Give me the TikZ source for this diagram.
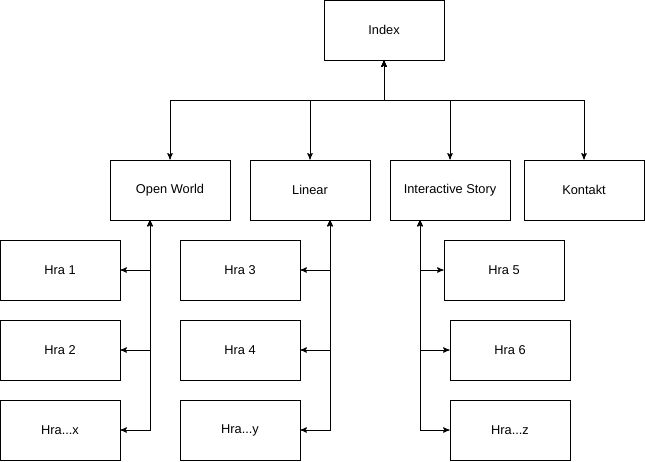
\documentclass[tikz,border=0pt]{standalone}
\usepackage{fontspec}
\setmainfont{Liberation Sans}
\usetikzlibrary{arrows}

\begin{document}
\begin{tikzpicture}
        [x=0.75pt,y=-0.75pt,>=stealth',line width=0.75pt,
         page/.style={draw,rectangle,minimum width=90pt,minimum height=45pt,inner sep=0pt,font=\fontsize{9.6}{11}\selectfont}]
        \useasboundingbox (0,0) rectangle (645,461);
        \node[page] (index) at (384,30) {Index};
        \node[page] (open) at (170,190) {Open World};
        \node[page] (linear) at (310,190) {Linear};
        \node[page] (story) at (450,190) {Interactive Story};
        \node[page] (kontakt) at (584,190) {Kontakt};

        \node[page] (h1) at (60,270) {Hra 1};
        \node[page] (h2) at (60,350) {Hra 2};
        \node[page] (hx) at (60,430) {Hra...x};
        \node[page] (h3) at (240,270) {Hra 3};
        \node[page] (h4) at (240,350) {Hra 4};
        \node[page] (hy) at (240,430) {Hra...y};
        \node[page] (h5) at (504,270) {Hra 5};
        \node[page] (h6) at (510,350) {Hra 6};
        \node[page] (hz) at (510,430) {Hra...z};

        \coordinate (bus) at (384,100);
        \coordinate (ow) at (150,220);
        \coordinate (li) at (330,220);
        \coordinate (is) at (420,220);

        \foreach \to in {open,linear,story,kontakt}
        \draw[<->] (index) -- (bus) -| (\to);
        \foreach \from/\to in {ow/h1,ow/h2,ow/hx,li/h3,li/h4,li/hy,is/h5,is/h6,is/hz}
        \draw[<->] (\from) |- (\to);
      \end{tikzpicture}
\end{document}
